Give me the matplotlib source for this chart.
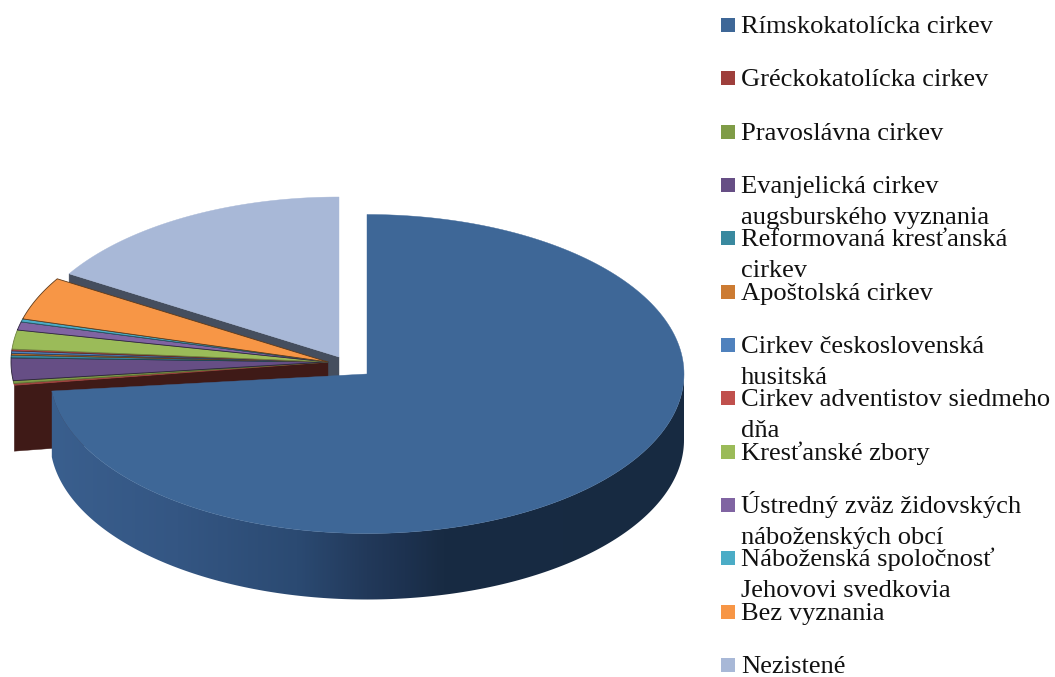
import numpy as np
import matplotlib
matplotlib.use('Agg')
import matplotlib.pyplot as plt
from matplotlib.colors import LinearSegmentedColormap
from matplotlib.patches import Polygon, Rectangle

plt.rcParams['font.family'] = ['Liberation Serif', 'DejaVu Serif']

## data, share of each group in percent
labels = ['Rímskokatolícka cirkev', 'Gréckokatolícka cirkev', 'Pravoslávna cirkev',
          'Evanjelická cirkev\naugsburského vyznania', 'Reformovaná kresťanská\ncirkev',
          'Apoštolská cirkev', 'Cirkev československá\nhusitská',
          'Cirkev adventistov siedmeho\ndňa', 'Kresťanské zbory',
          'Ústredný zväz židovských\nnáboženských obcí',
          'Náboženská spoločnosť\nJehovovi svedkovia', 'Bez vyznania', 'Nezistené']
values = [72.7, 0.17, 0.28, 2.28, 0.28, 0.17, 0.25, 0.17, 1.92, 0.83, 0.31, 4.36, 16.3]
colors = ['#3e6797', '#9e3f3c', '#7f9c47', '#664e85', '#39899f', '#cc7b32', '#4f81bd',
          '#c0504d', '#9bbb59', '#8064a2', '#4bacc6', '#f79646', '#a8b8d7']
edge_colors = ['#2a4a75', '#9e3f3c', '#5a6e32', '#2a2338', '#1d4550', '#663d19', '#284160',
               '#602826', '#6e8340', '#2e2440', '#265663', '#5e3a1a', '#454e5e']
face_colors = {'middle': '#3f1a17', 'back': '#454e5e'}

## pie geometry in pixels of the 1055x677 picture
A_MAIN, B_MAIN, CX_MAIN, CY_MAIN = 317, 159.5, 367, 374
A_MID, B_MID, CX_MID, CY_MID = 317, 160, 328, 362
A_NEZ, B_NEZ, CX_NEZ, CY_NEZ = 316, 160, 339, 357
DEPTH = 66
MAIN_TILT = 2.2 ## the cut of the big slice looks flatter than the others


def rim(cx, cy, a, b, t1, t2, n=200):
    t = np.radians(np.linspace(t1, t2, n))
    return np.column_stack([cx + a * np.cos(t), cy - b * np.sin(t)])


def draw_slice(cx, cy, a, b, t1, t2, color, edge, zorder, lw=0.3):
    pts = np.vstack([[cx, cy], rim(cx, cy, a, b, t1, t2)])
    ax.add_patch(Polygon(pts, closed=True, fc=color, ec=edge, lw=lw, zorder=zorder))


def draw_face(cx, cy, a, b, t, color, zorder):
    p = rim(cx, cy, a, b, t, t, 1)[0]
    pts = [[cx, cy], p, [p[0], p[1] + DEPTH], [cx, cy + DEPTH]]
    ax.add_patch(Polygon(pts, closed=True, fc=color, ec=color, lw=0.3, zorder=zorder))


fig = plt.figure(figsize=(10.55, 6.77), dpi=100)
ax = fig.add_axes([0, 0, 1, 1])

## angles run clockwise from twelve o'clock
shares = np.array(values) / np.sum(values) * 360
edges = 90 + np.cumsum(np.concatenate([[0], shares[::-1]]))[::-1] - 360

## Nezistene sits furthest back
t_a, t_b = edges[12] + 360, edges[13] + 360
draw_face(CX_NEZ, CY_NEZ, A_NEZ, B_NEZ, t_a, face_colors['back'], 1)
draw_slice(CX_NEZ, CY_NEZ, A_NEZ, B_NEZ, t_a, t_b, colors[12], colors[12], 2)

## small slices share one centre
t_start = edges[1] + 360
draw_face(CX_MID, CY_MID, A_MID, B_MID, t_start, face_colors['middle'], 4)
for i in range(1, 12):
    draw_slice(CX_MID, CY_MID, A_MID, B_MID, edges[i] + 360, edges[i + 1] + 360,
               colors[i], edge_colors[i], 5, lw=0.6)

## big slice: front wall with a left to right shade, then the top
t_end = edges[1] + 360 - MAIN_TILT
wall = np.vstack([rim(CX_MAIN, CY_MAIN, A_MAIN, B_MAIN, t_end, 360),
                  rim(CX_MAIN, CY_MAIN + DEPTH, A_MAIN, B_MAIN, 360, t_end)])
wall_patch = Polygon(wall, closed=True, fc='none', ec='none', zorder=6)
ax.add_patch(wall_patch)
shade = LinearSegmentedColormap.from_list('wall', [(0, '#3a5f8e'), (0.2, '#345683'), (0.39, '#2b4a72'),
                                                   (0.5, '#22395a'), (0.56, '#1d3250'), (0.62, '#182b43'),
                                                   (1, '#172a41')])
im = ax.imshow(np.linspace(0, 1, 256)[None, :], cmap=shade, aspect='auto', zorder=6,
               extent=[CX_MAIN - A_MAIN, CX_MAIN + A_MAIN, CY_MAIN + 300, CY_MAIN - 100])
im.set_clip_path(wall_patch)
draw_slice(CX_MAIN, CY_MAIN, A_MAIN, B_MAIN, 90, t_end - 360, colors[0], colors[0], 7)

## legend
for i, lab in enumerate(labels):
    y = 25 + i * 53.33
    ax.add_patch(Rectangle((721, y - 7), 14, 14, fc=colors[i], ec='none', zorder=8))
    for j, line in enumerate(lab.split('\n')):
        ax.text(741, y + 8 + j * 31, line, fontsize=19.05, color='#111111', va='baseline',
                ha='left', zorder=9)

ax.set_xlim(0, 1055)
ax.set_ylim(677, 0)
ax.axis('off')

fig.savefig('out.png', dpi=100)
